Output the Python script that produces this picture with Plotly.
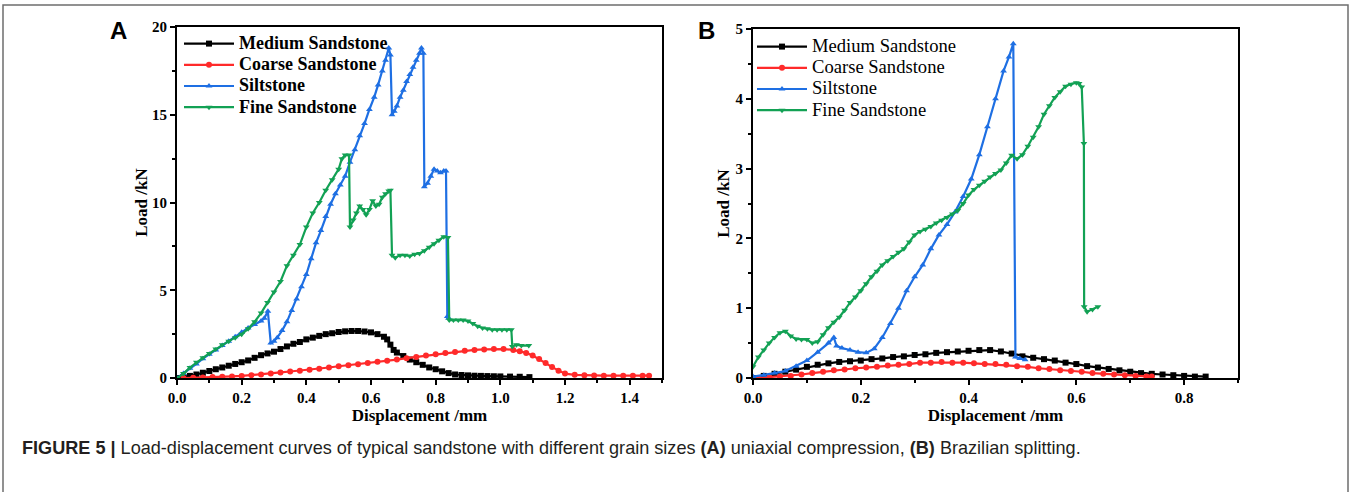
import plotly.graph_objects as go

# ---------------- Panel A: uniaxial compression ----------------
a_med_x = [0, 0.02, 0.04, 0.06, 0.08, 0.10, 0.12, 0.14, 0.16, 0.18, 0.20, 0.22, 0.24, 0.26, 0.28, 0.30, 0.32,
           0.34, 0.36, 0.38, 0.40, 0.42, 0.44, 0.46, 0.48, 0.50, 0.52, 0.54, 0.56, 0.58, 0.60, 0.62, 0.64,
           0.65, 0.66, 0.67, 0.68, 0.70, 0.72, 0.74, 0.76, 0.78, 0.80, 0.82, 0.84, 0.86, 0.88, 0.90, 0.92,
           0.94, 0.96, 0.98, 1.0, 1.03, 1.06, 1.09]
a_med_y = [0, 0.05, 0.12, 0.2, 0.3, 0.4, 0.5, 0.6, 0.7, 0.8, 0.9, 1.0, 1.15, 1.3, 1.4, 1.5, 1.65,
           1.8, 1.95, 2.05, 2.2, 2.3, 2.4, 2.5, 2.55, 2.62, 2.66, 2.68, 2.68, 2.65, 2.6, 2.5, 2.35,
           2.2, 1.9, 1.6, 1.45, 1.25, 1.05, 0.9, 0.75, 0.6, 0.5, 0.38, 0.28, 0.2, 0.17, 0.15, 0.13,
           0.12, 0.11, 0.1, 0.09, 0.08, 0.07, 0.05]

a_coarse_x = [0.02, 0.05, 0.08, 0.11, 0.14, 0.17, 0.2, 0.23, 0.26, 0.29, 0.32, 0.35, 0.38, 0.41, 0.44, 0.47,
              0.5, 0.53, 0.56, 0.59, 0.62, 0.65, 0.68, 0.71, 0.74, 0.77, 0.8, 0.83, 0.86, 0.89, 0.92, 0.95,
              0.98, 1.01, 1.04, 1.06, 1.08, 1.1, 1.12, 1.14, 1.16, 1.18, 1.2, 1.23, 1.26, 1.29, 1.32, 1.35,
              1.38, 1.41, 1.44, 1.46]
a_coarse_y = [0, 0.01, 0.03, 0.05, 0.07, 0.09, 0.12, 0.16, 0.2, 0.26, 0.32, 0.37, 0.42, 0.47, 0.53, 0.6,
              0.67, 0.73, 0.78, 0.86, 0.93, 0.98, 1.05, 1.13, 1.2, 1.28, 1.35, 1.42, 1.48, 1.55, 1.6, 1.63,
              1.65, 1.65, 1.6, 1.52, 1.43, 1.28, 1.08, 0.85, 0.62, 0.42, 0.25, 0.18, 0.15, 0.14, 0.13, 0.13,
              0.13, 0.13, 0.13, 0.13]

a_silt_x = [0, 0.02, 0.04, 0.06, 0.08, 0.1, 0.12, 0.14, 0.16, 0.18, 0.2, 0.22, 0.24, 0.26, 0.27, 0.281,
            0.29, 0.3, 0.31, 0.325, 0.34, 0.355, 0.37, 0.385, 0.4, 0.415, 0.43, 0.445, 0.46, 0.475, 0.49,
            0.505, 0.52, 0.535, 0.55, 0.565, 0.58, 0.595, 0.61, 0.622, 0.635, 0.645, 0.655, 0.66, 0.665,
            0.672, 0.68, 0.69, 0.7, 0.71, 0.72, 0.73, 0.74, 0.75, 0.756, 0.762, 0.765, 0.775, 0.785, 0.795,
            0.805, 0.815, 0.825, 0.832, 0.836, 0.84]
a_silt_y = [0, 0.25, 0.55, 0.8, 1.1, 1.35, 1.6, 1.85, 2.1, 2.35, 2.6, 2.85, 3.05, 3.25, 3.4, 3.8,
            2.0, 2.1, 2.3, 2.7, 3.2, 3.85, 4.5, 5.2, 5.9, 6.8, 7.7, 8.4, 9.2, 9.9, 10.5,
            11.0, 11.5, 12.3, 13.0, 13.8, 14.5, 15.3, 16.0, 16.7, 17.5, 18.1, 18.8, 18.4, 15.0,
            15.2, 15.5, 16.0, 16.4, 16.9, 17.3, 17.7, 18.1, 18.5, 18.8, 18.5, 10.9, 11.1, 11.5, 11.9,
            11.8, 11.7, 11.8, 11.8, 3.5, 3.4]

a_fine_x = [0, 0.02, 0.04, 0.06, 0.08, 0.1, 0.12, 0.14, 0.16, 0.18, 0.2, 0.22, 0.24, 0.26, 0.28, 0.3, 0.32,
            0.34, 0.36, 0.38, 0.4, 0.42, 0.44, 0.46, 0.48, 0.5, 0.51, 0.52, 0.532, 0.535, 0.545, 0.555, 0.565,
            0.575, 0.585, 0.595, 0.605, 0.615, 0.625, 0.635, 0.645, 0.655, 0.66, 0.665, 0.675, 0.69, 0.705,
            0.72, 0.735, 0.75, 0.765, 0.78, 0.795, 0.81, 0.825, 0.838, 0.842, 0.855, 0.87, 0.885, 0.9, 0.915,
            0.93, 0.945, 0.96, 0.975, 0.99, 1.005, 1.02, 1.034, 1.037, 1.05, 1.065, 1.088]
a_fine_y = [0, 0.25, 0.6, 0.9, 1.15, 1.4, 1.65, 1.9, 2.1, 2.3, 2.5, 2.8, 3.2, 3.7, 4.3, 4.9, 5.5,
            6.4, 7.0, 7.6, 8.6, 9.4, 10.0, 10.7, 11.3, 11.9, 12.5, 12.7, 12.7, 8.6, 9.0, 9.4, 9.8,
            9.6, 9.3, 9.6, 10.1, 9.8, 9.9, 10.3, 10.5, 10.65, 10.7, 7.0, 6.85, 7.0, 7.0,
            6.95, 7.05, 7.1, 7.25, 7.45, 7.65, 7.85, 8.05, 8.0, 3.3, 3.3, 3.3, 3.3, 3.25, 3.1,
            2.95, 2.85, 2.8, 2.75, 2.75, 2.75, 2.75, 2.75, 1.8, 1.9, 1.85, 1.85]

# ---------------- Panel B: Brazilian splitting ----------------
b_med_x = [0, 0.02, 0.04, 0.06, 0.08, 0.1, 0.12, 0.14, 0.16, 0.18, 0.2, 0.22, 0.24, 0.26, 0.28, 0.3, 0.32,
           0.34, 0.36, 0.38, 0.4, 0.42, 0.44, 0.46, 0.48, 0.5, 0.52, 0.54, 0.56, 0.58, 0.6, 0.62, 0.64, 0.66,
           0.68, 0.7, 0.72, 0.74, 0.76, 0.78, 0.8, 0.82, 0.84]
b_med_y = [0, 0.03, 0.06, 0.09, 0.12, 0.16, 0.19, 0.21, 0.23, 0.24, 0.25, 0.27, 0.28, 0.3, 0.31, 0.33, 0.34,
           0.36, 0.37, 0.38, 0.39, 0.4, 0.4, 0.38, 0.35, 0.31, 0.29, 0.27, 0.25, 0.22, 0.2, 0.17, 0.15, 0.13,
           0.11, 0.09, 0.07, 0.06, 0.05, 0.04, 0.03, 0.02, 0.02]

b_coarse_x = [0.01, 0.03, 0.05, 0.07, 0.09, 0.11, 0.13, 0.15, 0.17, 0.19, 0.21, 0.23, 0.25, 0.27, 0.29, 0.31,
              0.33, 0.35, 0.37, 0.39, 0.41, 0.43, 0.45, 0.47, 0.49, 0.51, 0.53, 0.55, 0.57, 0.59, 0.61, 0.63,
              0.65, 0.67, 0.69, 0.71, 0.73, 0.74]
b_coarse_y = [0, 0.01, 0.02, 0.03, 0.05, 0.07, 0.09, 0.11, 0.12, 0.14, 0.15, 0.16, 0.18, 0.19, 0.2, 0.22,
              0.22, 0.23, 0.22, 0.22, 0.21, 0.2, 0.2, 0.19, 0.17, 0.16, 0.14, 0.13, 0.11, 0.1, 0.09, 0.07,
              0.06, 0.05, 0.04, 0.03, 0.02, 0.02]

b_silt_x = [0, 0.02, 0.04, 0.06, 0.08, 0.1, 0.12, 0.14, 0.15, 0.155, 0.165, 0.18, 0.195, 0.21, 0.225, 0.24,
            0.255, 0.27, 0.285, 0.3, 0.315, 0.33, 0.345, 0.36, 0.375, 0.39, 0.405, 0.42, 0.435, 0.45, 0.465,
            0.475, 0.483, 0.487, 0.495, 0.505]
b_silt_y = [0.02, 0.04, 0.07, 0.1, 0.17, 0.25, 0.37, 0.5, 0.58, 0.46, 0.43, 0.4, 0.37, 0.36, 0.42, 0.58,
            0.78, 1.0, 1.25, 1.45, 1.62, 1.85, 2.05, 2.2, 2.38, 2.6, 2.85, 3.2, 3.6, 4.0, 4.4,
            4.6, 4.79, 0.3, 0.28, 0.26]

b_fine_x = [0, 0.01, 0.02, 0.03, 0.04, 0.05, 0.06, 0.07, 0.08, 0.09, 0.1, 0.11, 0.12, 0.13, 0.14, 0.15, 0.16,
            0.17, 0.18, 0.19, 0.2, 0.21, 0.22, 0.23, 0.24, 0.25, 0.26, 0.27, 0.28, 0.29, 0.3, 0.31, 0.32, 0.33,
            0.34, 0.35, 0.36, 0.37, 0.38, 0.39, 0.4, 0.41, 0.42, 0.43, 0.44, 0.45, 0.46, 0.47, 0.48, 0.49, 0.5,
            0.51, 0.52, 0.53, 0.54, 0.55, 0.56, 0.57, 0.58, 0.59, 0.6, 0.605, 0.61, 0.614, 0.6145, 0.62, 0.63,
            0.64]
b_fine_y = [0.16, 0.3, 0.4, 0.5, 0.58, 0.65, 0.67, 0.6, 0.56, 0.55, 0.55, 0.5, 0.52, 0.62, 0.72, 0.8, 0.87,
            0.97, 1.08, 1.16, 1.25, 1.35, 1.45, 1.53, 1.62, 1.68, 1.74, 1.8, 1.85, 1.95, 2.05, 2.1, 2.13, 2.17,
            2.22, 2.26, 2.3, 2.35, 2.4, 2.5, 2.62, 2.7, 2.76, 2.82, 2.88, 2.93, 2.98, 3.08, 3.19, 3.14, 3.2,
            3.32, 3.45, 3.6, 3.78, 3.9, 4.02, 4.1, 4.18, 4.21, 4.23, 4.22, 4.17, 3.36, 1.02, 0.95, 0.98,
            1.02]

names = ["Medium Sandstone", "Coarse Sandstone", "Siltstone", "Fine Sandstone"]
colors = ["#000000", "#ff2a2a", "#1e6fe3", "#12a154"]
symbols = ["square", "circle", "triangle-up", "triangle-down"]

W, H = 1351, 492
def px(x):
    return x / W
def py(y):
    return 1 - y / H

SERIF = "Liberation Serif, Times New Roman, serif"
SANS = "Liberation Sans, Arial, sans-serif"

fig = go.Figure()

panel_a = [(a_med_x, a_med_y), (a_coarse_x, a_coarse_y), (a_silt_x, a_silt_y), (a_fine_x, a_fine_y)]
panel_b = [(b_med_x, b_med_y), (b_coarse_x, b_coarse_y), (b_silt_x, b_silt_y), (b_fine_x, b_fine_y)]

def leg_name(n, bold, size):
    s = '<span style="font-size:%spx">%s</span>' % (size, n)
    return "<b>%s</b>" % s if bold else s

for i, (xs, ys) in enumerate(panel_a):
    fig.add_trace(go.Scatter(x=xs, y=ys, name=leg_name(names[i], True, 18), mode="lines+markers",
                             line=dict(color=colors[i], width=2.2),
                             marker=dict(symbol=symbols[i], size=6, color=colors[i]),
                             xaxis="x", yaxis="y", legend="legend"))
for i, (xs, ys) in enumerate(panel_b):
    fig.add_trace(go.Scatter(x=xs, y=ys, name=leg_name(names[i], False, 18.6), mode="lines+markers",
                             line=dict(color=colors[i], width=2.2),
                             marker=dict(symbol=symbols[i], size=6, color=colors[i]),
                             xaxis="x2", yaxis="y2", legend="legend2"))

tickfont = dict(family=SERIF, size=15, color="#000", weight="bold")
titlefont = dict(family=SERIF, size=17, color="#000", weight="bold")

def axis(domain, rng, dtick, minor_dtick, title, anchor, standoff, fmt):
    return dict(domain=domain, range=rng, dtick=dtick, tick0=0, showline=True, mirror=True,
                linecolor="#000", linewidth=2, ticks="outside", ticklen=5, tickwidth=2,
                tickcolor="#000", showgrid=False, zeroline=False, tickfont=tickfont,
                tickformat=fmt, automargin=False,
                minor=dict(dtick=minor_dtick, ticks="outside", ticklen=3, tickwidth=1.5, tickcolor="#000"),
                title=dict(text=title, font=titlefont, standoff=standoff), anchor=anchor)

fig.update_layout(
    width=W, height=H, margin=dict(l=0, r=0, t=0, b=0, autoexpand=False),
    paper_bgcolor="white", plot_bgcolor="white",
    xaxis=axis([px(177), px(662)], [0, 1.5], 0.2, 0.1, "Displacement /mm", "y", 4, ".1f"),
    yaxis=axis([py(378), py(27)], [0, 20], 5, 2.5, "Load /kN", "x", 0, "d"),
    xaxis2=axis([px(753), px(1238)], [0, 0.9], 0.2, 0.1, "Displacement /mm", "y2", 1, ".1f"),
    yaxis2=axis([py(378), py(29)], [0, 5], 1, 0.5, "Load /kN", "x2", 2, "d"),
    legend=dict(x=px(179), y=py(28), xanchor="left", yanchor="top", bgcolor="rgba(0,0,0,0)",
                itemwidth=50,
                font=dict(family=SERIF, size=14, color="#000"), tracegroupgap=0),
    legend2=dict(x=px(752), y=py(31), xanchor="left", yanchor="top", bgcolor="rgba(0,0,0,0)",
                 itemwidth=50,
                 font=dict(family=SERIF, size=14, color="#000"), tracegroupgap=0),
    showlegend=True,
)

fig.add_annotation(text="A", x=px(119), y=py(30), xref="paper", yref="paper", showarrow=False,
                   xanchor="center", yanchor="middle",
                   font=dict(family=SANS, size=24, color="#000", weight="bold"))
fig.add_annotation(text="B", x=px(706), y=py(30), xref="paper", yref="paper", showarrow=False,
                   xanchor="center", yanchor="middle",
                   font=dict(family=SANS, size=24, color="#000", weight="bold"))
fig.add_annotation(
    text="<b>FIGURE 5 |</b> Load-displacement curves of typical sandstone with different grain sizes "
         "<b>(A)</b> uniaxial compression, <b>(B)</b> Brazilian splitting.",
    x=px(20), y=py(448), xref="paper", yref="paper", xanchor="left", yanchor="middle",
    showarrow=False, font=dict(family=SANS, size=18.1, color="#231f20"))

fig.add_shape(type="rect", xref="paper", yref="paper", x0=px(3), x1=px(1348), y0=-0.05, y1=py(5),
              line=dict(color="#6e6e6e", width=1.5), fillcolor="rgba(0,0,0,0)")

fig.write_html("out.html", config={"displayModeBar": False},
               post_script="document.body.style.margin='0px';document.body.style.overflow='hidden';")
